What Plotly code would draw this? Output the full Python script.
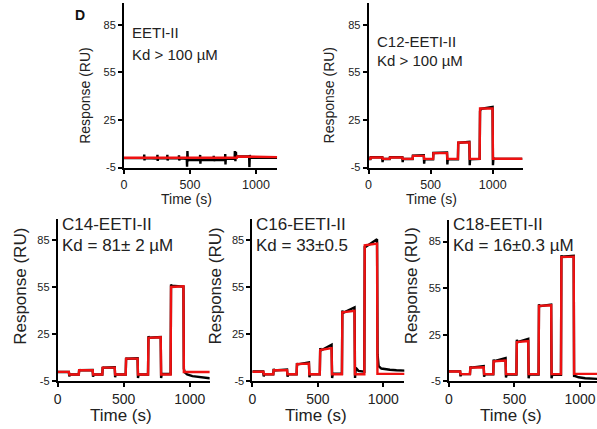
import plotly.graph_objects as go

W, H = 597, 429
FONT = "Liberation Sans, Arial, sans-serif"

# ---------------- data ----------------
Y_TICKS = [-5, 25, 55, 85]
Y_TICK_TEXT = ["-5", "25", "55", "85"]
X_TICKS = [0, 500, 1000]

# EETI-II
T_FIT_EETI = [0, 855, 858, 945, 948, 1160]
EETI_FIT = [1.2, 1.2, 2.0, 2.0, 1.6, 1.6]
T_OBS_EETI = [0, 152, 154, 156, 158, 252, 254, 256, 258, 327, 329, 331, 333, 415, 417,
              419, 421, 476, 478, 481, 484, 486, 575, 577, 579, 581, 678, 680, 682, 684,
              765, 767, 769, 771, 838, 840, 844, 848, 850, 948, 950, 953, 956, 1160]
EETI_OBS = [1.0, 1.0, 3.2, -0.5, 1.0, 0.8, 3.0, -0.8, 0.8, 0.8, 3.0, -0.5, 0.8, 0.8, 2.8,
            -0.5, 0.8, 0.6, -4.5, 5.5, -1.0, 0.0, -0.2, 3.0, -2.5, 0.0, -0.2, 2.5, -1.0, 0.0,
            -0.2, 3.5, -3.0, 0.5, 0.5, 5.5, -1.0, 5.0, 2.0, 2.0, -4.8, 3.0, 1.2, 1.2]

# C12-EETI-II
T_FIT_C12 = [0, 15, 18, 112, 115, 170, 173, 272, 275, 355, 358, 445, 448, 520, 523,
             632, 635, 720, 723, 812, 815, 895, 898, 999, 1002, 1240]
C12_FIT = [0.5, 0.5, 1.4, 1.4, 0.5, 0.5, 1.4, 1.4, 0.5, 0.5, 2.4, 2.4, 0.5, 0.5, 4.1,
           4.1, 0.5, 0.5, 10.8, 10.8, 0.5, 0.5, 32.2, 32.2, 0.6, 0.6]
T_OBS_C12 = [0, 15, 17, 110, 113, 116, 170, 172, 272, 275, 278, 355, 357, 445, 448, 451,
             520, 522, 632, 635, 638, 720, 722, 812, 815, 818, 895, 898, 905, 999, 1002,
             1006, 1012, 1240]
C12_OBS = [0.4, 0.4, 1.5, 1.6, -1.5, 0.4, 0.4, 1.5, 1.6, -1.5, 0.4, 0.4, 2.5, 2.8, -2.5, 0.3,
           0.3, 4.2, 4.5, -3.0, 0.3, 0.3, 10.6, 11.3, -3.5, 0.3, 0.5, 30.5, 32.0, 33.2, -3.5,
           1.0, 0.5, 0.5]

# bottom row (C14, C16, C18)
T_FIT_BOT = [0, 85, 88, 160, 163, 265, 268, 338, 341, 432, 435, 515, 518, 605, 608, 684,
             687, 780, 783, 855, 858, 952, 955, 1200]
C14_FIT = [0.9, 0.9, -0.8, -0.8, 1.9, 1.9, -0.8, -0.8, 3.6, 3.6, -0.8, -0.8, 9.3, 9.3,
           -0.8, -0.8, 22.6, 22.9, -0.8, -0.8, 55.0, 55.4, 0.8, 0.8]
C16_FIT = [1.0, 1.0, -0.6, -0.6, 1.9, 2.0, -0.6, -0.6, 5.8, 6.2, -0.6, -0.6, 14.8, 16.0,
           -0.6, -0.6, 38.8, 39.8, -0.6, -0.6, 81.5, 82.6, -0.4, -0.4]
C18_FIT = [1.3, 1.3, -0.4, -0.4, 3.8, 4.0, -0.4, -0.4, 7.8, 8.4, -0.4, -0.4, 20.3, 20.9,
           -0.4, -0.4, 43.6, 44.0, -0.4, -0.4, 75.0, 75.3, -0.2, -0.2]

T_OBS_C14 = [0, 85, 88, 92, 160, 163, 166, 265, 268, 272, 338, 341, 344, 432, 435, 439,
             515, 518, 522, 605, 608, 613, 684, 687, 692, 780, 783, 788, 855, 858, 862,
             952, 955, 962, 980, 1020, 1080, 1150, 1200]
C14_OBS = [0.8, 0.8, -2.0, -0.8, -0.8, 2.5, 1.9, 2.1, -2.2, -0.8, -0.8, 3.9, 3.6, 3.8, -2.5,
           -0.8, -0.8, 9.8, 9.3, 9.6, -3.0, -0.8, -0.8, 23.5, 22.7, 23.1, -3.0, -0.5, -0.5,
           56.5, 55.8, 55.3, 3.0, 0.5, -0.8, -1.8, -2.6, -3.2, -3.4]

T_OBS_C16 = [0, 83, 87, 92, 160, 163, 166, 265, 269, 274, 338, 341, 345, 432, 436, 441,
             515, 518, 523, 605, 609, 615, 684, 687, 693, 780, 784, 790, 810, 855, 858, 864,
             952, 956, 964, 985, 1010, 1050, 1100, 1200]
C16_OBS = [1.1, 1.1, -2.0, -0.6, -0.6, 2.8, 1.8, 2.4, -2.2, -0.6, -0.6, 6.5, 5.6, 6.9, -2.5,
           -0.6, -0.6, 16.0, 14.5, 18.2, -3.0, -0.3, -0.3, 40.0, 38.5, 42.0, -3.0, 3.5, 1.5,
           1.0, 81.0, 80.5, 85.5, 12.0, 4.5, 3.0, 2.6, 2.2, 1.9, 1.6]

T_OBS_C18 = [0, 85, 88, 92, 160, 163, 167, 265, 268, 273, 338, 341, 345, 432, 435, 440,
             515, 518, 522, 605, 608, 613, 684, 687, 692, 780, 783, 788, 855, 858, 862,
             952, 955, 962, 990, 1040, 1100, 1200]
C18_OBS = [1.4, 1.4, -1.8, -0.4, -0.4, 4.5, 3.8, 4.8, -2.0, -0.5, -0.5, 9.0, 7.9, 10.0, -2.5,
           -0.6, -0.6, 21.8, 20.2, 22.4, -3.0, -0.6, -0.6, 44.6, 43.4, 44.4, -3.0, -0.8, -0.8,
           76.2, 75.2, 75.8, -1.5, -1.6, -2.4, -3.0, -3.4, -3.8]

NAMES = ["EETI-II", "C12-EETI-II", "C14-EETI-II", "C16-EETI-II", "C18-EETI-II"]
KD_TEXT = ["Kd > 100 µM", "Kd > 100 µM", "Kd = 81± 2 µM", "Kd = 33±0.5", "Kd = 16±0.3 µM"]

# ---------------- layout geometry (pixels) ----------------
panels = [
    dict(x0=120.7, x1=275, yt=3, yb=170, xmax=1160, ymax=98.7, big=False,
         tf=T_FIT_EETI, fit=EETI_FIT, to=T_OBS_EETI, obs=EETI_OBS),
    dict(x0=367, x1=522, yt=3, yb=170, xmax=1240, ymax=98.7, big=False,
         tf=T_FIT_C12, fit=C12_FIT, to=T_OBS_C12, obs=C12_OBS),
    dict(x0=54, x1=207, yt=222, yb=386.5, xmax=1150, ymax=98.4, big=True,
         tf=T_FIT_BOT, fit=C14_FIT, to=T_OBS_C14, obs=C14_OBS),
    dict(x0=250, x1=403, yt=222, yb=386.5, xmax=1160, ymax=98.4, big=True,
         tf=T_FIT_BOT, fit=C16_FIT, to=T_OBS_C16, obs=C16_OBS),
    dict(x0=448, x1=597, yt=223, yb=386.7, xmax=1130, ymax=99.0, big=True,
         tf=T_FIT_BOT, fit=C18_FIT, to=T_OBS_C18, obs=C18_OBS),
]


def px(x):
    return x / W


def py(y):
    return 1 - y / H


fig = go.Figure()
annotations = []
layout_axes = {}

for i, p in enumerate(panels):
    n = "" if i == 0 else str(i + 1)
    xa, ya = "x" + n, "y" + n
    fig.add_trace(go.Scatter(x=p["to"], y=p["obs"], mode="lines", xaxis=xa, yaxis=ya,
                             line=dict(color="black", width=2.4), showlegend=False,
                             hoverinfo="skip"))
    fig.add_trace(go.Scatter(x=p["tf"], y=p["fit"], mode="lines", xaxis=xa, yaxis=ya,
                             line=dict(color="#ee1111", width=2.4), showlegend=False,
                             hoverinfo="skip"))
    axcommon = dict(showline=True, linecolor="black", linewidth=1.8, ticks="outside",
                    ticklen=4, tickwidth=1.5, tickcolor="black", showgrid=False,
                    zeroline=False, fixedrange=True)
    layout_axes["xaxis" + n] = dict(
        axcommon, domain=[px(p["x0"]), px(p["x1"])], range=[0, p["xmax"]],
        tickvals=X_TICKS, anchor=ya,
        tickfont=dict(family=FONT, size=12.5 if not p["big"] else 14, color="#222"))
    layout_axes["yaxis" + n] = dict(
        axcommon, domain=[py(p["yb"]), py(p["yt"])], range=[-5, p["ymax"]],
        tickvals=Y_TICKS, ticktext=Y_TICK_TEXT, anchor=xa,
        tickfont=dict(family=FONT, size=11, color="#222"))

    tsize = 14 if not p["big"] else 17
    lsize = 15 if not p["big"] else 17
    if i == 0:
        l1y, l2y, lx = 33, 55, 127
    elif i == 1:
        l1y, l2y, lx = 42, 61, 373
    else:
        l1y, l2y, lx = 228, 249, p["x0"] + 2
    annotations.append(dict(x=px(lx), y=py(l1y), xref="paper", yref="paper",
                            text=NAMES[i], showarrow=False, xanchor="left", yanchor="middle",
                            font=dict(family=FONT, size=lsize, color="#222")))
    annotations.append(dict(x=px(lx), y=py(l2y), xref="paper", yref="paper",
                            text=KD_TEXT[i], showarrow=False, xanchor="left", yanchor="middle",
                            font=dict(family=FONT, size=lsize, color="#222")))
    if p["big"]:
        ytx, yty = p["x0"] - 37, 290
        txy = 421
    else:
        ytx, yty = p["x0"] - 40, 97
        txy = 202
    annotations.append(dict(x=px(ytx), y=py(yty), xref="paper", yref="paper",
                            text="Response (RU)", showarrow=False, textangle=-90,
                            xanchor="center", yanchor="middle",
                            font=dict(family=FONT, size=tsize, color="#222")))
    txc = p["x0"] + (p["x1"] - p["x0"]) * 0.42 if p["big"] else p["x0"] + 63
    annotations.append(dict(x=px(txc), y=py(txy), xref="paper", yref="paper",
                            text="Time (s)", showarrow=False,
                            xanchor="center", yanchor="middle",
                            font=dict(family=FONT, size=tsize, color="#222")))

annotations.append(dict(x=px(77), y=py(15), xref="paper", yref="paper", text="<b>D</b>",
                        showarrow=False, xanchor="center", yanchor="middle",
                        font=dict(family=FONT, size=14, color="#111")))

fig.update_layout(width=W, height=H, autosize=False,
                  margin=dict(l=0, r=0, t=0, b=0, pad=0),
                  paper_bgcolor="white", plot_bgcolor="white",
                  annotations=annotations, **layout_axes)

fig.write_html("out.html", config={"displayModeBar": False},
               post_script="document.body.style.margin='0';document.body.style.overflow='hidden';")
